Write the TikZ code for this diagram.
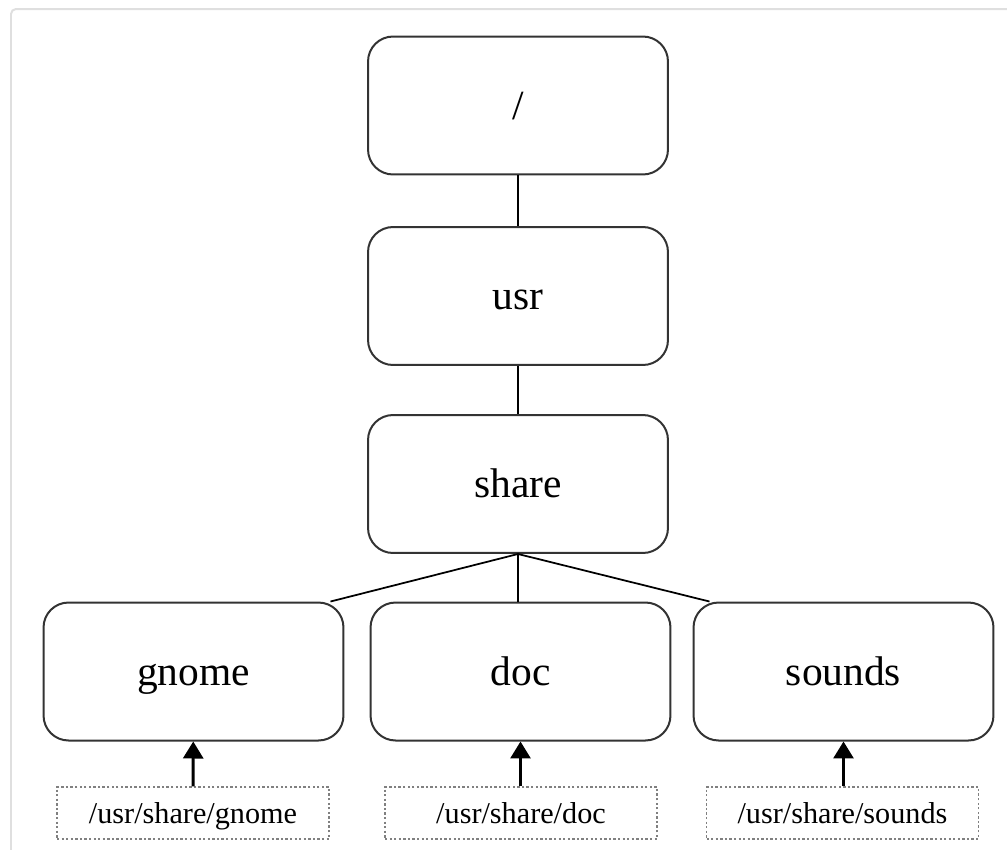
\documentclass[tikz,border=0pt]{standalone}
\usepackage{fontspec}
\setmainfont{Liberation Serif}
\usetikzlibrary{arrows.meta}
\begin{document}
\begin{tikzpicture}[x=0.02cm,y=-0.02cm]
    \tikzset{dir box/.style={draw=black!80, line width=0.04cm, rounded corners=0.5cm,
                minimum width=6cm, minimum height=2.76cm, text height=0.76cm, text depth=0.22cm,
                font=\fontsize{23.6pt}{26pt}\selectfont},
             path box/.style={draw=gray, dash pattern=on 1.3pt off 1.3pt, line width=0.025cm,
                minimum width=5.44cm, minimum height=1.04cm, inner sep=0pt,
                text height=0.59cm, text depth=0.155cm,
                font=\fontsize{17.2pt}{19pt}\selectfont},
             tree edge/.style={line width=0.035cm},
             path arrow/.style={line width=0.06cm, -{Triangle[width=0.4cm,length=0.34cm]}}}
    \useasboundingbox (0,0) rectangle (1007,849);
    % outer frame
    \draw[gray!25, line width=0.04cm, rounded corners=0.1cm] (11,9) rectangle (1040,880);

    % Draw the directory tree
    \node [dir box] (root) at (518,105.5) {/};
    \node [dir box] (usr) at (518,296) {usr};
    \node [dir box] (share) at (518,484) {share};
    \node [dir box] (gnome) at (193.5,671.5) {gnome};
    \node [dir box] (doc) at (520.5,671.5) {doc};
    \node [dir box] (sounds) at (843.5,671.5) {sounds};

    % Connect the levels
    \draw [tree edge] (root) -- (usr);
    \draw [tree edge] (usr) -- (share);
    \draw [tree edge] (share.south) -- ([xshift=-0.28cm]gnome.north east);
    \draw [tree edge] (share.south) -- (share.south |- doc.north);
    \draw [tree edge] (share.south) -- ([xshift=0.34cm]sounds.north west);

    % Full paths below each directory
    \node [path box] (gnome path) at (193,813) {/usr/share/gnome};
    \node [path box] (doc path) at (521,813) {/usr/share/doc};
    \node [path box] (sounds path) at (842.5,813) {/usr/share/sounds};

    \draw [path arrow] (gnome path) -- (gnome);
    \draw [path arrow] (doc path.north -| doc.south) -- (doc);
    \draw [path arrow] (sounds path.north -| sounds.south) -- (sounds);
\end{tikzpicture}
\end{document}
